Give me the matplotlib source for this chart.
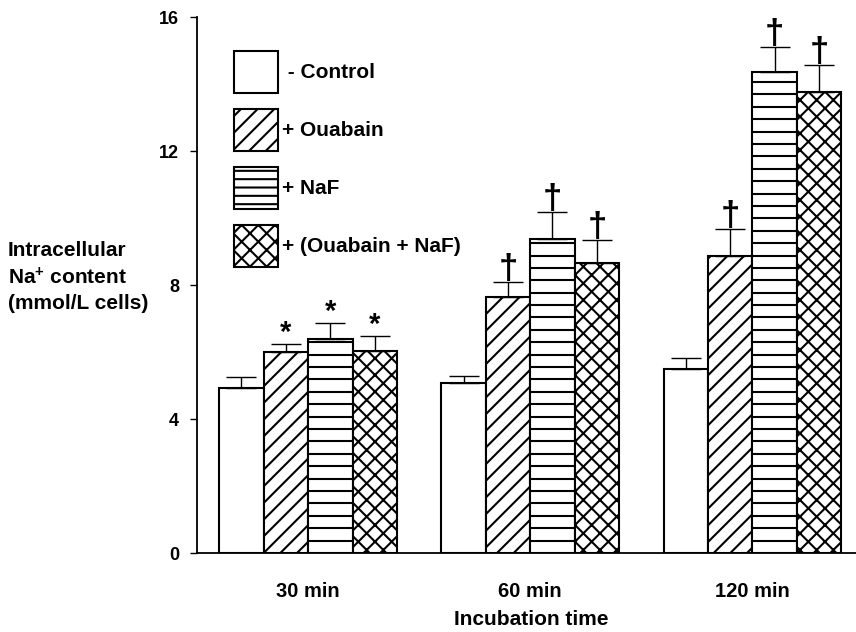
import numpy as np
import matplotlib
matplotlib.use("Agg")
import matplotlib.pyplot as plt
from matplotlib.patches import Patch

plt.rcParams["font.family"] = "Liberation Sans"
plt.rcParams["font.weight"] = "bold"
plt.rcParams["hatch.linewidth"] = 1.5
plt.rcParams["mathtext.fontset"] = "custom"
plt.rcParams["mathtext.rm"] = "Liberation Sans:bold"
plt.rcParams["mathtext.bf"] = "Liberation Sans:bold"
plt.rcParams["mathtext.default"] = "bf"

# Intracellular Na+ content (mmol/L cells), mean and SE per incubation time
times = ["30 min", "60 min", "120 min"]
labels = [" - Control", "+ Ouabain", "+ NaF", "+ (Ouabain + NaF)"]

control = [4.93, 5.07, 5.50]
ouabain = [5.99, 7.65, 8.87]
naf = [6.39, 9.37, 14.35]
combo = [6.03, 8.65, 13.75]

control_err = [0.33, 0.20, 0.33]
ouabain_err = [0.24, 0.43, 0.80]
naf_err = [0.48, 0.81, 0.76]
combo_err = [0.45, 0.69, 0.82]

# significance marks for the treated groups at each time
marks = ["*", "\u2020", "\u2020"]

# ─────────────────────────────
# Figure / axes
# ─────────────────────────────
fig = plt.figure(figsize=(8.56, 6.32), dpi=100)
ax = fig.add_axes([197 / 856, 79 / 632, 659 / 856, 536 / 632])

x = np.arange(len(times))
width = 0.2
offsets = [-0.3, -0.1, 0.1, 0.3]
series = [control, ouabain, naf, combo]
errors = [control_err, ouabain_err, naf_err, combo_err]
hatches = ["", "//", "", "xx"]
line_step = 0.37  # spacing of the horizontal rules in the NaF bars

for k, (vals, errs, off, hatch) in enumerate(zip(series, errors, offsets, hatches)):
    xs = x + off
    ax.bar(xs, vals, width=width, facecolor="white", edgecolor="black",
           linewidth=1.5, hatch=hatch, zorder=2)
    if k == 2:
        for xc, h in zip(xs, vals):
            ys = np.arange(line_step, h - 0.05, line_step)
            ax.hlines(ys, xc - width / 2, xc + width / 2, color="black",
                      linewidth=1.5, zorder=2.5)
    ax.errorbar(xs, vals, yerr=[np.zeros(len(vals)), errs], fmt="none",
                ecolor="black", elinewidth=1, capsize=11, capthick=1, zorder=3)
    if k > 0:
        for xc, v, e, m in zip(xs, vals, errs, marks):
            if m == "*":
                size, dy = 21, -2
            else:
                size, dy = 25, -3
            ax.annotate(m, (xc, v + e), xytext=(0, dy), textcoords="offset points",
                        ha="center", va="bottom", fontsize=size, fontweight="bold")

# ─────────────────────────────
# Axes styling
# ─────────────────────────────
ax.set_xlim(-0.5, 2.466)
ax.set_ylim(0, 16)
ax.set_yticks([0, 4, 8, 12, 16])
ax.set_xticks(x, times)
for side in ["top", "right"]:
    ax.spines[side].set_visible(False)
for side in ["left", "bottom"]:
    ax.spines[side].set_linewidth(1.3)
ax.tick_params(axis="y", length=5, width=1, pad=8, labelsize=13)
ax.tick_params(axis="x", length=0, pad=21, labelsize=14.5)

ax.set_xlabel("Incubation time", fontsize=15, fontweight="bold")
ax.xaxis.set_label_coords(0.507, -0.106)

fig.text(8 / 856, 1 - 277 / 632, "Intracellular\nNa$^{+}$ content\n(mmol/L cells)",
         fontsize=15, ha="left", va="center", linespacing=1.42)

handles = [Patch(facecolor="white", edgecolor="black", hatch=h, linewidth=1.5)
           for h in ["", "//", "--", "xx"]]
ax.legend(handles, labels, loc="upper left",
          bbox_to_anchor=(234 / 856, 1 - 51 / 632), bbox_transform=fig.transFigure,
          frameon=False, fontsize=15, handlelength=2.11, handleheight=2.72,
          handletextpad=0.2, labelspacing=0.77, borderpad=0, borderaxespad=0)

fig.savefig("out.png", dpi=100)
